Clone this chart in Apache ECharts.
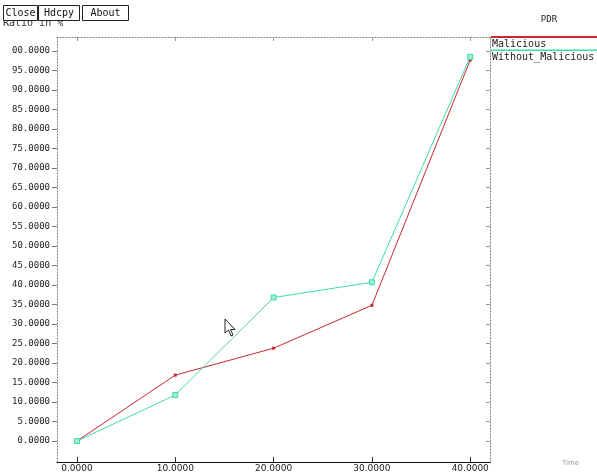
<!DOCTYPE html>
<html><head><meta charset="utf-8">
<script src="https://cdn.jsdelivr.net/npm/echarts@6/dist/echarts.min.js"></script>
<style>html,body{margin:0;padding:0;background:#fff;overflow:hidden}#c{width:597px;height:473px}</style>
</head><body><div id="c"></div>
<script>
// ---- data ----
const xValues = [0, 10, 20, 30, 40];
const malicious = [0, 16.9, 23.8, 34.8, 97.7];
const withoutMalicious = [0, 11.8, 36.8, 40.7, 98.5];
const seriesNames = ['Malicious', 'Without_Malicious'];
const yTicks = [0,5,10,15,20,25,30,35,40,45,50,55,60,65,70,75,80,85,90,95,100];
const yTickLabels = ['0.0000','5.0000','10.0000','15.0000','20.0000','25.0000','30.0000','35.0000','40.0000','45.0000','50.0000','55.0000','60.0000','65.0000','70.0000','75.0000','80.0000','85.0000','90.0000','95.0000','00.0000'];
const xTicks = [0, 10, 20, 30, 40];
const xTickLabels = ['0.0000','10.0000','20.0000','30.0000','40.0000'];
const titleText = 'PDR';
const yAxisTitle = 'Ratio in %';
const xAxisTitle = 'Time';
const buttons = ['Close', 'Hdcpy', 'About'];

// ---- chart ----
const RED = '#c8282a', GREEN = '#3fdca8';
const chart = echarts.init(document.getElementById('c'), null, {renderer: 'canvas'});
const pair = vals => xValues.map((x, i) => [x, vals[i]]);
const mono = '"DejaVu Sans Mono", monospace';
const sans = '"DejaVu Sans", sans-serif';
const dotted = {show: true, onZero: false, lineStyle: {color: '#777', type: [1, 2], width: 1}};

const btnX = [3, 38, 82], btnW = [34, 41, 46];
const graphics = [];
graphics.push({type: 'text', x: 3, y: 23, style: {text: yAxisTitle, font: '10px ' + mono, fill: '#333', verticalAlign: 'middle'}});
buttons.forEach((b, i) => {
  graphics.push({type: 'rect', shape: {x: btnX[i] + 0.5, y: 5.5, width: btnW[i], height: 15}, style: {fill: '#fff', stroke: '#222', lineWidth: 1}});
  graphics.push({type: 'text', x: btnX[i] + btnW[i] / 2 + 0.5, y: 13, style: {text: b, font: '10px ' + mono, fill: '#111', align: 'center', verticalAlign: 'middle'}});
});
graphics.push({type: 'text', x: 549, y: 20, style: {text: titleText, font: '9px ' + mono, fill: '#222', align: 'center', verticalAlign: 'middle'}});
graphics.push({type: 'rect', shape: {x: 491, y: 36, width: 106, height: 2}, style: {fill: RED}});
graphics.push({type: 'text', x: 492, y: 44, style: {text: seriesNames[0], font: '10px ' + mono, fill: '#222', verticalAlign: 'middle'}});
graphics.push({type: 'rect', shape: {x: 491, y: 49.5, width: 106, height: 1.5}, style: {fill: GREEN}});
graphics.push({type: 'text', x: 492, y: 57, style: {text: seriesNames[1], font: '10px ' + mono, fill: '#222', verticalAlign: 'middle'}});
graphics.push({type: 'text', x: 562, y: 463, style: {text: xAxisTitle, font: '7px ' + sans, fill: '#999', verticalAlign: 'middle'}});
// mouse cursor
graphics.push({type: 'polygon', shape: {points: [[225,319],[225,333],[228.5,330],[231,336],[233,335],[230.5,329.5],[235,329.5]]}, style: {fill: '#fff', stroke: '#222', lineWidth: 1}});

chart.setOption({
  animation: false,
  backgroundColor: '#fff',
  grid: {left: 57, top: 37, width: 433, height: 426},
  xAxis: [{
    type: 'value', min: -2.03, max: 42.01, position: 'bottom',
    splitLine: {show: false},
    axisLine: {show: true, onZero: false, lineStyle: {color: '#111', width: 1}},
    axisTick: {show: true, inside: true, length: 5, customValues: xTicks, lineStyle: {color: '#333'}},
    axisLabel: {customValues: xTicks, margin: 2, formatter: v => xTickLabels[xTicks.indexOf(v)] || '', fontFamily: sans, fontSize: 9, color: '#222'}
  }, {
    type: 'value', min: -2.03, max: 42.01, position: 'top',
    splitLine: {show: false},
    axisLine: dotted,
    axisTick: {show: true, inside: true, length: 4, customValues: xTicks, lineStyle: {color: '#999'}},
    axisLabel: {show: false}
  }],
  yAxis: [{
    type: 'value', min: -5.37, max: 103.58, position: 'left',
    splitLine: {show: false},
    axisLine: dotted,
    axisTick: {show: true, inside: false, length: 5, customValues: yTicks, lineStyle: {color: '#777'}},
    axisLabel: {customValues: yTicks, margin: 7, formatter: v => yTickLabels[yTicks.indexOf(v)] || '', fontFamily: mono, fontSize: 9, color: '#222'}
  }, {
    type: 'value', min: -5.37, max: 103.58, position: 'right',
    splitLine: {show: false},
    axisLine: dotted,
    axisTick: {show: true, inside: true, length: 4, customValues: yTicks, lineStyle: {color: '#999'}},
    axisLabel: {show: false}
  }],
  series: [{
    name: seriesNames[0], type: 'line', data: pair(malicious),
    lineStyle: {color: RED, width: 1}, itemStyle: {color: RED},
    symbol: 'rect', symbolSize: 3, showSymbol: true
  }, {
    name: seriesNames[1], type: 'line', data: pair(withoutMalicious),
    lineStyle: {color: GREEN, width: 1}, itemStyle: {color: '#9ef0d0', borderColor: GREEN, borderWidth: 1},
    symbol: 'rect', symbolSize: 5, showSymbol: true
  }],
  graphic: graphics
});
</script></body></html>
